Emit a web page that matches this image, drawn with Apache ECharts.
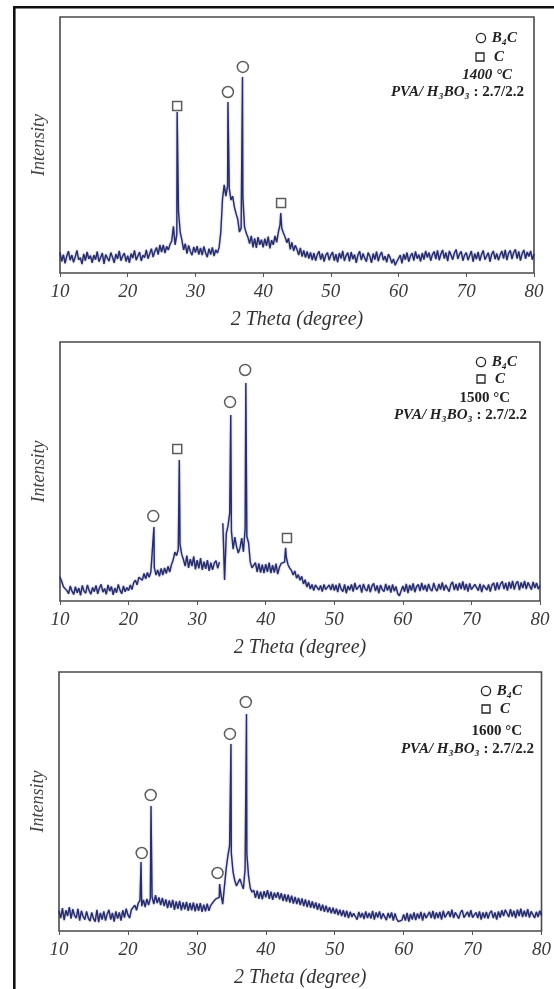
<!DOCTYPE html>
<html>
<head>
<meta charset="utf-8">
<script src="https://cdn.jsdelivr.net/npm/echarts@6/dist/echarts.min.js"></script>
<style>
html,body{margin:0;padding:0;background:#fff}
#chart{width:554px;height:989px}
</style>
</head>
<body>
<div id="chart"></div>
<script>
// XRD scans, 2theta from 10 to 80 in 0.25 deg steps (arbitrary intensity units, 0..1000)
var thetaStart = 10, thetaStep = 0.25;

var counts1400 = [
  80,45,72,38,66,85,50,70,42,63,88,52,60,35,75,48,82,55,68,40,      // 10
  70,52,84,44,61,78,36,72,58,46,80,62,40,74,55,86,48,66,78,45,      // 15
  68,40,76,58,88,50,66,82,47,70,60,90,56,75,95,62,84,100,72,110,    // 20
  82,110,78,104,90,112,125,182,110,150,240,160,128,90,115,76,108,84,70,102,  // 25
  80,105,72,98,70,104,78,62,95,72,100,66,90,78,100,160,290,344,300,340,     // 30
  330,285,300,258,232,210,160,175,300,180,156,140,115,145,100,135,98,140,110,130, // 35
  100,134,106,142,96,128,110,145,120,160,190,175,156,140,118,136,92,120,86,108,  // 40
  92,70,98,64,88,60,84,56,80,50,78,48,72,85,52,76,45,70,80,50,      // 45
  70,82,48,74,42,78,56,86,47,68,80,45,82,54,72,40,70,85,50,76,      // 50
  58,44,80,66,40,76,52,84,46,70,82,50,66,42,74,60,38,55,30,45,      // 55
  50,70,38,74,52,80,44,66,78,48,84,56,72,45,78,52,86,60,80,48,      // 60
  72,84,54,88,50,74,90,56,80,46,86,70,52,78,92,55,74,84,48,70,      // 65
  80,50,68,86,44,76,54,82,48,72,88,52,66,80,44,74,86,54,76,50,      // 70
  70,86,56,90,50,78,88,54,80,92,56,84,48,76,90,55,82,64,86,52,      // 75
  74
];
var peaks1400 = [[27.3,629],[34.8,668],[36.95,766],[42.6,234]];
var b4c1400 = [[34.8,707],[37.0,805]];
var carbon1400 = [[27.3,652],[42.65,273]];

var counts1500 = [
  93,75,55,62,40,28,58,38,25,55,32,50,22,60,38,30,62,40,26,52,      // 10
  36,60,28,50,64,34,48,26,62,38,56,24,50,32,64,42,28,58,36,52,      // 15
  40,62,44,72,80,62,92,98,80,106,86,110,92,112,118,130,100,120,95,126,       // 20
  100,128,106,134,112,140,158,189,175,200,220,180,160,135,175,128,162,135,172,122, // 25
  158,126,166,120,152,124,158,116,148,120,146,156,126,150,null,300,81,260,290,340, // 30
  270,200,247,210,185,205,243,190,280,250,224,150,128,135,148,112,145,110,140,108, // 35
  142,112,148,108,138,110,144,104,130,145,147,150,170,140,127,118,100,116,88,102,  // 40
  80,95,66,82,54,72,46,64,40,62,68,42,60,36,64,44,38,62,42,66,      // 45
  40,62,34,68,46,36,64,30,58,42,64,36,70,44,38,62,32,66,46,38,      // 50
  64,34,58,68,38,60,30,62,44,36,66,40,60,32,64,38,56,28,20,40,      // 55
  58,36,66,30,62,40,68,34,56,64,38,70,42,62,36,66,46,38,70,48,      // 60
  38,66,44,72,40,62,68,36,64,74,42,66,40,70,46,76,42,66,36,68,      // 65
  44,38,64,70,40,66,34,62,68,42,64,36,62,70,40,72,44,66,76,46,      // 70
  70,40,74,48,78,44,68,76,42,72,50,78,46,72,68,44,74,50,70,46,      // 75
  60
];
var peaks1500 = [[23.7,286],[27.4,544],[34.9,718],[37.1,842],[42.9,205]];
var b4c1500 = [[23.6,328],[34.8,768],[37.0,892]];
var carbon1500 = [[27.1,587],[43.1,243]];

var counts1600 = [
  78,50,88,42,80,58,92,48,84,60,50,86,40,78,56,44,76,50,38,72,      // 10
  48,36,82,34,70,44,76,40,66,82,44,70,36,76,48,72,40,80,52,86,      // 15
  62,50,82,88,100,80,108,118,96,120,92,124,100,126,132,104,138,108,130,100,  // 20
  128,96,122,88,118,90,120,82,114,86,116,80,110,84,112,78,108,80,110,76,     // 25
  106,78,108,74,102,76,106,78,98,108,112,124,118,130,140,104,110,240,290,330, // 30
  300,228,195,174,188,201,180,162,240,300,212,165,150,158,128,156,124,152,122,154, // 35
  130,158,124,152,120,148,128,150,122,146,116,142,114,140,110,136,106,132,104,128, // 40
  100,126,96,122,92,118,90,114,88,110,82,106,78,102,74,98,72,92,68,90,       // 45
  66,86,62,82,58,80,54,78,50,74,54,68,56,44,74,52,70,46,76,50,      // 50
  70,48,78,44,72,52,76,46,68,74,42,70,50,72,40,68,46,36,30,42,      // 55
  64,40,70,36,66,44,72,42,68,48,74,40,70,50,44,74,50,78,46,72,      // 60
  50,74,44,78,52,48,76,54,82,50,72,78,48,72,80,52,50,74,54,80,      // 65
  52,46,72,50,76,44,72,50,74,48,70,78,50,72,44,76,52,80,58,82,      // 70
  76,54,84,56,78,50,82,58,86,54,78,56,84,52,76,80,50,74,54,78,      // 75
  60
];
var peaks1600 = [[21.9,266],[23.35,483],[33.3,181],[34.95,722],[37.2,838]];
var b4c1600 = [[22.0,301],[23.3,525],[33.0,224],[34.8,761],[37.1,884]];
var carbon1600 = [];

var tempLabels = ['1400 °C', '1500 °C', '1600 °C'];

function buildScan(counts, peaks) {
  var pts = counts.map(function (v, i) {
    return [+(thetaStart + i * thetaStep).toFixed(2), v];
  });
  return pts.concat(peaks).sort(function (a, b) { return a[0] - b[0]; });
}

var panels = [
  {scan: buildScan(counts1400, peaks1400), b4c: b4c1400, c: carbon1400,
   grid: {left: 60, top: 17, width: 474, height: 256}},
  {scan: buildScan(counts1500, peaks1500), b4c: b4c1500, c: carbon1500,
   grid: {left: 60, top: 342, width: 480, height: 259}},
  {scan: buildScan(counts1600, peaks1600), b4c: b4c1600, c: carbon1600,
   grid: {left: 59, top: 672, width: 483, height: 259}}
];

var serif = '"Liberation Serif", "DejaVu Serif", serif';
var lineCol = '#262c6c';

var grids = [], xAxes = [], yAxes = [], series = [];
panels.forEach(function (p, i) {
  grids.push({
    left: p.grid.left, top: p.grid.top, width: p.grid.width, height: p.grid.height,
    show: true, borderColor: '#4a4a4a', borderWidth: 1.6, backgroundColor: 'transparent'
  });
  xAxes.push({
    gridIndex: i, type: 'value', min: 10, max: 80, interval: 10,
    name: '2 Theta (degree)', nameLocation: 'middle', nameGap: 37,
    nameTextStyle: {fontFamily: serif, fontStyle: 'italic', fontSize: 20, color: '#333'},
    axisLine: {show: false},
    axisTick: {show: true, inside: false, length: 4, lineStyle: {color: '#555', width: 1}},
    axisLabel: {fontFamily: serif, fontStyle: 'italic', fontSize: 19, color: '#3a3a3a', margin: 9},
    splitLine: {show: false}
  });
  yAxes.push({
    gridIndex: i, type: 'value', min: 0, max: 1000,
    name: 'Intensity', nameLocation: 'middle', nameRotate: 90, nameGap: 12,
    nameTextStyle: {fontFamily: serif, fontStyle: 'italic', fontSize: 18, color: '#444'},
    axisLine: {show: false}, axisTick: {show: false}, axisLabel: {show: false},
    splitLine: {show: false}
  });
  series.push({
    type: 'line', xAxisIndex: i, yAxisIndex: i, data: p.scan,
    showSymbol: false, connectNulls: false,
    lineStyle: {color: lineCol, width: 1.4, shadowBlur: 2, shadowColor: 'rgba(40,46,110,0.45)'},
    z: 2
  });
  series.push({
    type: 'scatter', xAxisIndex: i, yAxisIndex: i, data: p.b4c,
    symbol: 'circle', symbolSize: 11,
    itemStyle: {color: '#fff', borderColor: '#333', borderWidth: 1.5},
    z: 3
  });
  series.push({
    type: 'scatter', xAxisIndex: i, yAxisIndex: i, data: p.c,
    symbol: 'rect', symbolSize: 9,
    itemStyle: {color: '#fff', borderColor: '#333', borderWidth: 1.5},
    z: 3
  });
});

// legend-like annotation blocks (pixel layout)
var notePos = [
  {y: [38, 57, 75, 92], xB: 517, xC: 504, xT: 512, xP: 524, italicT: true},
  {y: [362, 379, 398, 415], xB: 517, xC: 505, xT: 510, xP: 527, italicT: false},
  {y: [691, 709, 731, 749], xB: 522, xC: 510, xT: 522, xP: 534, italicT: false}
];
var graphics = [
  {type: 'rect', shape: {x: 13, y: 6, width: 2.6, height: 990}, style: {fill: '#111'}},
  {type: 'rect', shape: {x: 13, y: 6, width: 545, height: 2.6}, style: {fill: '#111'}}
];
notePos.forEach(function (n, i) {
  var fBI = 'italic bold 15px ' + serif;
  var fB = 'bold 15px ' + serif;
  graphics.push({type: 'text', x: n.xB, y: n.y[0],
    style: {text: 'B₄C', font: fBI, fill: '#222', align: 'right', verticalAlign: 'middle'}});
  graphics.push({type: 'circle', shape: {cx: n.xB - 36, cy: n.y[0], r: 4.6},
    style: {fill: '#fff', stroke: '#222', lineWidth: 1.3}});
  graphics.push({type: 'text', x: n.xC, y: n.y[1],
    style: {text: 'C', font: fBI, fill: '#222', align: 'right', verticalAlign: 'middle'}});
  graphics.push({type: 'rect', shape: {x: n.xC - 28, y: n.y[1] - 4, width: 8, height: 8},
    style: {fill: '#fff', stroke: '#222', lineWidth: 1.3}});
  graphics.push({type: 'text', x: n.xT, y: n.y[2],
    style: {text: tempLabels[i], font: (n.italicT ? 'italic bold 15px ' : 'bold 15px ') + serif,
      fill: '#222', align: 'right', verticalAlign: 'middle'}});
  graphics.push({type: 'text', x: n.xP, y: n.y[3],
    style: {text: '{a|PVA/ H₃BO₃ }{b|: 2.7/2.2}', align: 'right', verticalAlign: 'middle',
      rich: {a: {font: fBI, fill: '#222'}, b: {font: fB, fill: '#222'}}}});
});

var myChart = echarts.init(document.getElementById('chart'), null, {renderer: 'canvas'});
myChart.setOption({
  animation: false,
  backgroundColor: '#fff',
  grid: grids,
  xAxis: xAxes,
  yAxis: yAxes,
  series: series,
  graphic: graphics
});
</script>
</body>
</html>
